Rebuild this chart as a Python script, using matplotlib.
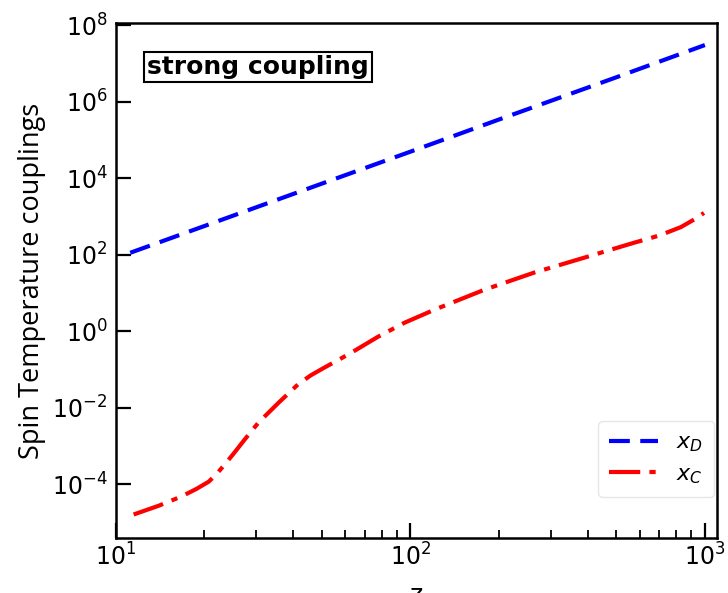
import matplotlib
matplotlib.use("Agg")
import matplotlib.pyplot as plt
import numpy as np
from matplotlib.ticker import LogLocator, NullFormatter, NullLocator

# redshift grid and couplings
z_d = [11.2, 20, 50, 100, 200, 500, 1000]
x_d = [112, 560, 7150, 4.9e4, 3.4e5, 4.3e6, 3.0e7]

z_c = [11.5, 14.0, 16.7, 18.8, 20.7, 22.0, 23.4, 25.3, 27.4, 30.5, 35.7,
       41.7, 46.0, 51.1, 57.0, 63.1, 77.9, 95.5, 120.6, 178, 263, 389, 574,
       700, 829, 920, 993]
log_x_c = [-4.79, -4.56, -4.32, -4.12, -3.93, -3.73, -3.49, -3.17, -2.83,
           -2.39, -1.87, -1.38, -1.15, -0.95, -0.75, -0.56, -0.14, 0.22, 0.56,
           1.08, 1.53, 1.92, 2.31, 2.50, 2.72, 2.92, 3.09]
x_c = [10.0 ** v for v in log_x_c]

fig = plt.figure(figsize=(7.28, 5.93), dpi=100)
ax = fig.add_axes([0.159, 0.093, 0.826, 0.868])

ax.plot(z_d, x_d, color="blue", linewidth=3.0, dashes=(5, 2.5), label=r"$x_D$")
ax.plot(z_c, x_c, color="red", linewidth=3.0, dashes=(7.5, 2.2, 1.5, 2.2), label=r"$x_C$")

ax.set_xscale("log")
ax.set_yscale("log")
ax.set_xlim(10, 1100)
ax.set_ylim(10 ** -5.4, 10 ** 8.05)

ax.set_yticks([1e-4, 1e-2, 1e0, 1e2, 1e4, 1e6, 1e8])
ax.yaxis.set_minor_locator(NullLocator())
ax.xaxis.set_minor_locator(LogLocator(base=10, subs=np.arange(2, 10), numticks=20))
ax.xaxis.set_minor_formatter(NullFormatter())

ax.tick_params(axis="both", which="major", direction="in", length=11, width=1.6,
               labelsize=17, pad=6)
ax.tick_params(axis="x", which="major", pad=4)
ax.tick_params(axis="both", which="minor", direction="in", length=6, width=1.3)
for sp in ax.spines.values():
    sp.set_linewidth(1.8)

# the reference is cropped just below the top of the "z"
ax.set_xlabel("z", fontsize=18, labelpad=9)
ax.set_ylabel("Spin Temperature couplings", fontsize=19.5, family="Open Sans", labelpad=4)

ax.text(0.052, 0.915, "strong coupling", transform=ax.transAxes, fontsize=18,
        fontweight="bold", va="center", ha="left",
        bbox=dict(boxstyle="square,pad=0.12", facecolor="white", edgecolor="black",
                  linewidth=1.5))

ax.legend(loc="lower right", fontsize=16, frameon=True, framealpha=1.0,
          edgecolor="#e6e6e6", handlelength=2.2, borderpad=0.5, labelspacing=0.45,
          borderaxespad=0.0, bbox_to_anchor=(0.995, 0.08))

fig.savefig("out.png", dpi=100)
